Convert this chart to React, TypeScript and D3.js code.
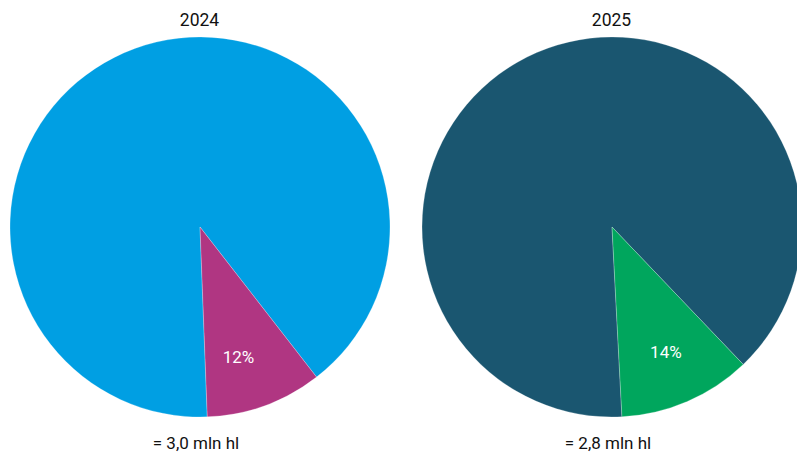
import React from "react";
import * as d3 from "d3";

const years = ["2024", "2025"];
const totals = ["= 3,0 mln hl", "= 2,8 mln hl"];
// slice values as drawn (share of the circle, %)
const restValues = [90.1, 88.7];
const shareValues = [9.9, 11.3];
const shareLabels = ["12%", "14%"];
const startAnglesDeg = [177.8, 177.0];
const restColors = ["#009fe3", "#1a5670"];
const shareColors = ["#b03682", "#00a65d"];

const W = 797;
const H = 453;
const centers = [200, 612];
const cy = 227;
const R = 190;
const labelShiftDeg = [3.6, 0];

export default function App() {
  const arc = d3.arc<d3.PieArcDatum<number>>().innerRadius(0).outerRadius(R);
  return (
    <svg width={W} height={H} style={{ position: "absolute", left: 0, top: 0, fontFamily: "Roboto, sans-serif" }}>
      {years.map((y, i) => {
        const a0 = (startAnglesDeg[i] * Math.PI) / 180;
        const pie = d3.pie<number>().sort(null).startAngle(a0).endAngle(a0 + 2 * Math.PI);
        const arcs = pie([restValues[i], shareValues[i]]);
        const cols = [restColors[i], shareColors[i]];
        const mid = (arcs[1].startAngle + arcs[1].endAngle) / 2 + (labelShiftDeg[i] * Math.PI) / 180;
        const lr = 136;
        const lx = lr * Math.sin(mid);
        const ly = -lr * Math.cos(mid);
        return (
          <g key={y}>
            <g transform={`translate(${centers[i]},${cy})`}>
              {arcs.map((d, j) => (
                <path key={j} d={arc(d) || ""} fill={cols[j]} stroke="#ffffff" strokeWidth={0.4} strokeOpacity={0.6} />
              ))}
              <text x={lx} y={ly} textAnchor="middle" dominantBaseline="central" fill="#ffffff" fontSize={17}>
                {shareLabels[i]}
              </text>
            </g>
            <text x={centers[i] - 0.5} y={20} textAnchor="middle" dominantBaseline="central" fill="#111" fontSize={17.5}>
              {y}
            </text>
            <text x={centers[i] - 4} y={443} textAnchor="middle" dominantBaseline="central" fill="#111" fontSize={17}>
              {totals[i]}
            </text>
          </g>
        );
      })}
    </svg>
  );
}
